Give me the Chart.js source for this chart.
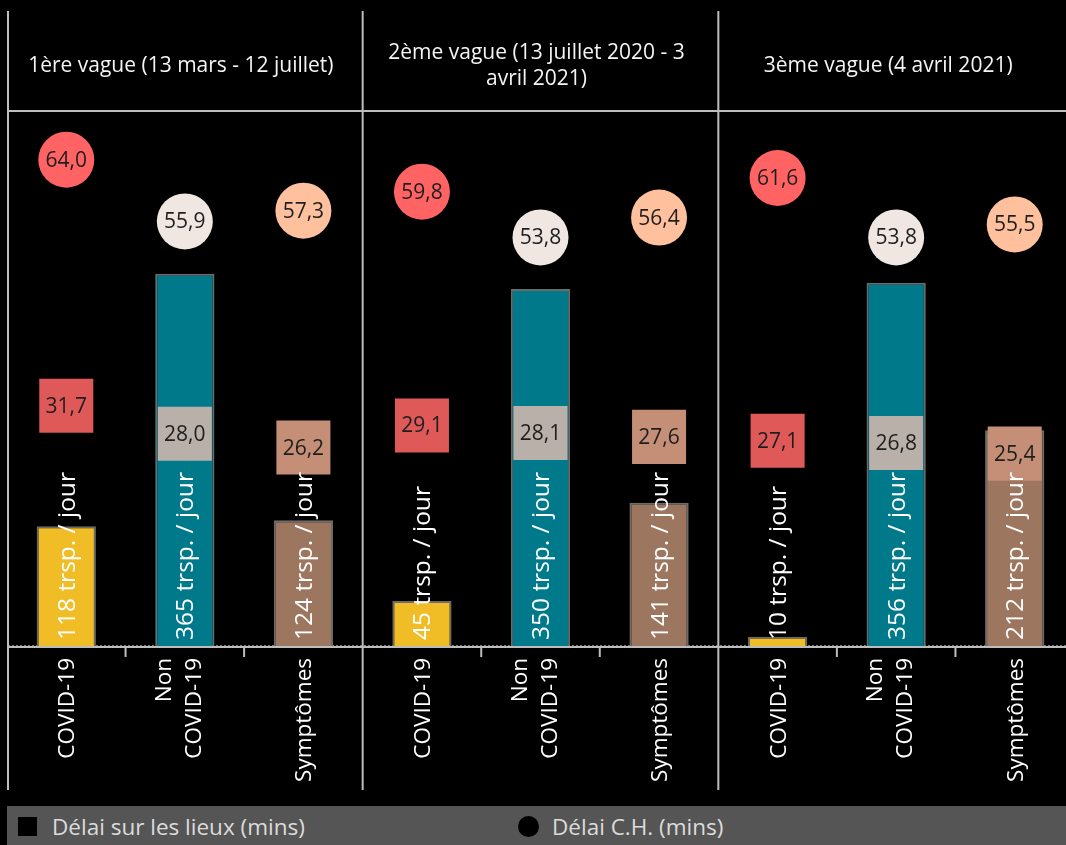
<!DOCTYPE html>
<html><head><meta charset="utf-8">
<script src="https://cdn.jsdelivr.net/npm/chart.js@4/dist/chart.umd.min.js"></script>
<style>
html,body{margin:0;padding:0;background:#000;overflow:hidden;width:1066px;height:845px;}
#wrap{position:absolute;left:0;top:0;width:1076px;height:845px;}
#legend{position:absolute;left:7px;top:806px;width:1059px;height:39px;background:#555555;font-family:"Open Sans","Noto Sans",sans-serif;color:#dcdcdc;font-size:22.5px;}
.item{position:absolute;top:0;height:39px;line-height:41px;}
.sq{position:absolute;left:11px;top:11px;width:19px;height:19px;background:#000;}
.ci{position:absolute;left:511px;top:10px;width:21px;height:21px;border-radius:50%;background:#000;}
</style></head>
<body>
<div id="wrap"><canvas id="c"></canvas></div>
<div id="legend">
  <div class="sq"></div><div class="item" style="left:45px">Délai sur les lieux (mins)</div>
  <div class="ci"></div><div class="item" style="left:545px">Délai C.H. (mins)</div>
</div>
<script>
// ---- Data ----
const waves = [
  ["1ère vague (13 mars - 12 juillet)"],
  ["2ème vague (13 juillet 2020 - 3", "avril 2021)"],
  ["3ème vague (4 avril 2021)"]
];
const categories = [["COVID-19"], ["Non", "COVID-19"], ["Symptômes"]];
const transports = [118, 365, 124, 45, 350, 141, 10, 356, 212];
const delaiLieux = [31.7, 28.0, 26.2, 29.1, 28.1, 27.6, 27.1, 26.8, 25.4];
const delaiCH = [64.0, 55.9, 57.3, 59.8, 53.8, 56.4, 61.6, 53.8, 55.5];
const barUnit = "trsp. / jour";

// ---- Styles ----
const barColors = ["#F0BD27", "#007A8B", "#9C765F"];
const lieuxColors = ["#E05959", "#B9B0AA", "#C48F76"];
const chColors = ["#FF6363", "#F0E7E2", "#FFC09D"];
const FONT = '"Open Sans", "Noto Sans", sans-serif';

const labels = [];
waves.forEach((w, wi) => categories.forEach(c => labels.push(c.join(" ") + " " + (wi + 1))));
const perCat = arr => labels.map((_, i) => arr[i % 3]);
const fmt = v => v.toFixed(1).replace(".", ",");

const overlay = {
  id: "overlay",
  beforeDatasetsDraw(chart) {
    const ctx = chart.ctx, ca = chart.chartArea;
    ctx.save();
    ctx.strokeStyle = "#777"; ctx.lineWidth = 1; ctx.setLineDash([2, 2]);
    ctx.beginPath(); ctx.moveTo(8, ca.bottom - 1.5); ctx.lineTo(1066, ca.bottom - 1.5); ctx.stroke();
    ctx.restore();
  },
  afterDraw(chart) {
    const ctx = chart.ctx, ca = chart.chartArea, x = chart.scales.x;
    const step = x.getPixelForValue(1) - x.getPixelForValue(0);
    ctx.save();
    ctx.strokeStyle = "#bdbdbd"; ctx.lineWidth = 2;
    ctx.beginPath(); ctx.moveTo(8, 11); ctx.lineTo(8, 790); ctx.stroke();
    ctx.beginPath(); ctx.moveTo(8, ca.top); ctx.lineTo(1066, ca.top); ctx.stroke();
    ctx.beginPath(); ctx.moveTo(8, ca.bottom); ctx.lineTo(1066, ca.bottom); ctx.stroke();
    for (let i = 1; i < labels.length; i++) {
      const bx = x.getPixelForValue(i) - step / 2;
      ctx.beginPath();
      if (i % 3 === 0) { ctx.moveTo(bx, 11); ctx.lineTo(bx, 790); }
      else { ctx.moveTo(bx, ca.bottom); ctx.lineTo(bx, ca.bottom + 10); }
      ctx.stroke();
    }
    // wave headers
    ctx.fillStyle = "#f4f4f4"; ctx.font = "21px " + FONT; ctx.textAlign = "center"; ctx.textBaseline = "alphabetic";
    waves.forEach((lines, wi) => {
      const left = x.getPixelForValue(wi * 3) - step / 2;
      const right = Math.min(x.getPixelForValue(wi * 3 + 2) + step / 2, 1066);
      const cx = (left + right) / 2 - 4;
      lines.forEach((t, li) => {
        const by = 72 + (li - (lines.length - 1) / 2) * 26;
        ctx.fillText(t, cx, by);
      });
    });
    // marker value labels
    ctx.fillStyle = "#1e1e1e"; ctx.font = "21px " + FONT; ctx.textAlign = "center"; ctx.textBaseline = "middle";
    [1, 2].forEach(di => {
      const meta = chart.getDatasetMeta(di);
      const vals = chart.data.datasets[di].data;
      meta.data.forEach((pt, i) => ctx.fillText(fmt(vals[i]), pt.x, pt.y + 1));
    });
    // bar labels (rotated)
    const barMeta = chart.getDatasetMeta(0);
    ctx.fillStyle = "#ffffff"; ctx.font = "24.5px " + FONT; ctx.textAlign = "left"; ctx.textBaseline = "alphabetic";
    barMeta.data.forEach((bar, i) => {
      ctx.save();
      ctx.translate(bar.x + 8.5, ca.bottom - 7);
      ctx.rotate(-Math.PI / 2);
      ctx.fillText(transports[i] + " " + barUnit, 0, 0);
      ctx.restore();
    });
    // category labels (rotated)
    ctx.fillStyle = "#ffffff"; ctx.font = "22.5px " + FONT; ctx.textAlign = "right";
    labels.forEach((_, i) => {
      const lines = categories[i % 3];
      const px = x.getPixelForValue(i);
      const offs = lines.length === 1 ? [0] : [-22, 8];
      lines.forEach((t, li) => {
        ctx.save();
        ctx.translate(px + offs[li] + 8, ca.bottom + 11);
        ctx.rotate(-Math.PI / 2);
        ctx.fillText(t, 0, 0);
        ctx.restore();
      });
    });
    ctx.restore();
  }
};

new Chart(document.getElementById("c"), {
  data: {
    labels: labels,
    datasets: [
      { type: "bar", data: transports, yAxisID: "y", order: 3,
        backgroundColor: perCat(barColors), borderColor: "#6b6b6b", borderWidth: 2,
        barPercentage: 0.5, categoryPercentage: 1 },
      { type: "line", data: delaiLieux, yAxisID: "y2", order: 2, showLine: false,
        pointStyle: "rect", pointRadius: 38.2, pointHoverRadius: 38.2, pointBorderWidth: 0,
        pointBackgroundColor: perCat(lieuxColors), borderColor: "transparent" },
      { type: "line", data: delaiCH, yAxisID: "y2", order: 1, showLine: false,
        pointStyle: "circle", pointRadius: 28, pointHoverRadius: 28, pointBorderWidth: 0,
        pointBackgroundColor: perCat(chColors), borderColor: "transparent" }
    ]
  },
  options: {
    responsive: true, maintainAspectRatio: false, animation: false, events: [],
    layout: { autoPadding: false, padding: { left: 7, right: 2, top: 111, bottom: 198 } },
    plugins: { legend: { display: false }, tooltip: { enabled: false } },
    scales: {
      x: { type: "category", display: false, offset: true },
      y: { display: false, min: 0, max: 524 },
      y2: { display: false, min: 0, max: 70.4 }
    }
  },
  plugins: [overlay]
});
</script>
</body></html>
